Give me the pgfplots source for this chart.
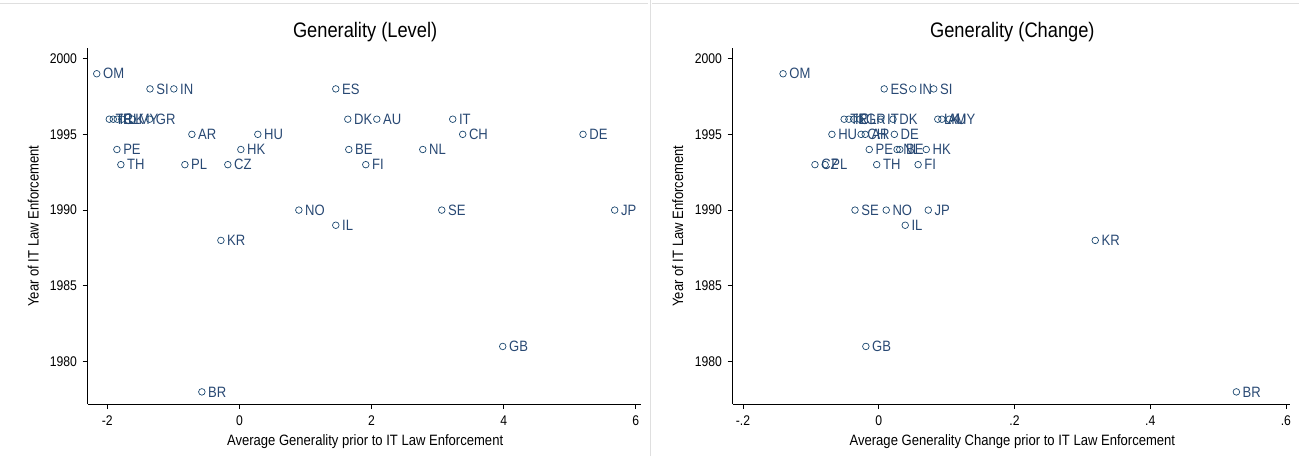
\documentclass[border=0pt]{standalone}
\usepackage{pgfplots}
\pgfplotsset{compat=1.18}
\usepackage{pgfplotstable}
\usepackage{fontspec}
\setmainfont{Liberation Sans}
\newfontfamily\narrowfont[FakeStretch=0.87]{Liberation Sans}
\definecolor{stnavy}{RGB}{26,71,111}
\definecolor{labnavy}{RGB}{40,72,115}

% Average generality level before enforcement vs. year of IT law enforcement
\pgfplotstableread{
x y lab
-2.16 1999 OM
-1.354 1998 SI
-0.993 1998 IN
1.458 1998 ES
-1.97 1996 TR
-1.91 1996 IE
-1.85 1996 CL
-1.78 1996 LK
-1.62 1996 MY
-1.36 1996 GR
1.640 1996 DK
2.079 1996 AU
3.228 1996 IT
-0.720 1995 AR
0.278 1995 HU
3.379 1995 CH
5.200 1995 DE
-1.855 1994 PE
0.021 1994 HK
1.655 1994 BE
2.775 1994 NL
-1.795 1993 TH
-0.826 1993 PL
-0.176 1993 CZ
1.912 1993 FI
0.899 1990 NO
3.062 1990 SE
5.679 1990 JP
1.458 1989 IL
-0.281 1988 KR
3.985 1981 GB
-0.569 1978 BR
}\levelData

% Average generality change before enforcement vs. year of IT law enforcement
\pgfplotstableread{
x y lab
-0.141 1999 OM
0.008 1998 ES
0.050 1998 IN
0.081 1998 SI
-0.051 1996 TR
-0.044 1996 IE
-0.037 1996 CL
-0.028 1996 GR
0.003 1996 IT
0.021 1996 DK
0.087 1996 LK
0.093 1996 AU
0.104 1996 MY
-0.069 1995 HU
-0.026 1995 CH
-0.020 1995 AR
0.023 1995 DE
-0.014 1994 PE
0.027 1994 NL
0.031 1994 BE
0.070 1994 HK
-0.094 1993 CZ
-0.079 1993 PL
-0.003 1993 TH
0.058 1993 FI
-0.035 1990 SE
0.011 1990 NO
0.073 1990 JP
0.039 1989 IL
0.319 1988 KR
-0.019 1981 GB
0.527 1978 BR
}\changeData

\pgfplotsset{
  statapanel/.style={
    scale only axis,
    height=356pt,
    clip=false,
    axis x line*=bottom,
    axis y line*=left,
    axis line style={-, line width=0.8pt, black},
    tick align=outside,
    major tick length=5pt,
    every tick/.style={black, line width=0.8pt},
    ymin=1977.2, ymax=2000.7,
    ytick={1980,1985,1990,1995,2000},
    yticklabels={1980,1985,1990,1995,2000},
    tick label style={font=\narrowfont\fontsize{14}{16}\selectfont, black},
    yticklabel style={xshift=-2pt},
    xticklabel style={yshift=-3pt},
    every axis title/.style={at={(axis description cs:0.502,1.045)}, anchor=center,
      font=\narrowfont\fontsize{21}{23}\selectfont},
    every axis x label/.style={at={(axis description cs:0.502,-0.107)}, anchor=center,
      font=\narrowfont\fontsize{15}{17}\selectfont},
    every axis y label/.style={at={(axis description cs:-0.098,0.5)}, anchor=center,
      rotate=90, font=\narrowfont\fontsize{15}{17}\selectfont},
    ylabel={Year of IT Law Enforcement},
  },
  statapoints/.style={
    only marks,
    mark=o,
    mark size=3.3pt,
    color=stnavy,
    line width=0.7pt,
    nodes near coords,
    point meta=explicit symbolic,
    every node near coord/.style={anchor=west, inner sep=1pt, xshift=5pt,
      font=\narrowfont\fontsize{15}{17}\selectfont, text=labnavy},
  },
}

\begin{document}
\begin{tikzpicture}[x=1pt,y=1pt]
\useasboundingbox (0,0) rectangle (1299,456);
% panel borders
\draw[gray!25, line width=0.8pt] (0,453) -- (648,453);
\draw[gray!25, line width=0.8pt] (652,453) -- (1299,453);
\draw[gray!25, line width=0.8pt] (650,0) -- (650,456);

\begin{axis}[statapanel,
  at={(87.5pt,52pt)}, anchor=south west,
  width=553pt,
  xmin=-2.30, xmax=6.07,
  xtick={-2,0,2,4,6},
  xticklabels={-2,0,2,4,6},
  title={Generality (Level)},
  xlabel={Average Generality prior to IT Law Enforcement},
]
\addplot[statapoints] table[x=x, y=y, meta=lab] {\levelData};
\end{axis}

\begin{axis}[statapanel,
  at={(732.5pt,52pt)}, anchor=south west,
  width=557.5pt,
  xmin=-0.2155, xmax=0.606,
  xtick={-0.2,0,0.2,0.4,0.6},
  xticklabels={-.2,0,.2,.4,.6},
  title={Generality (Change)},
  xlabel={Average Generality Change prior to IT Law Enforcement},
]
\addplot[statapoints] table[x=x, y=y, meta=lab] {\changeData};
\end{axis}
\end{tikzpicture}
\end{document}
